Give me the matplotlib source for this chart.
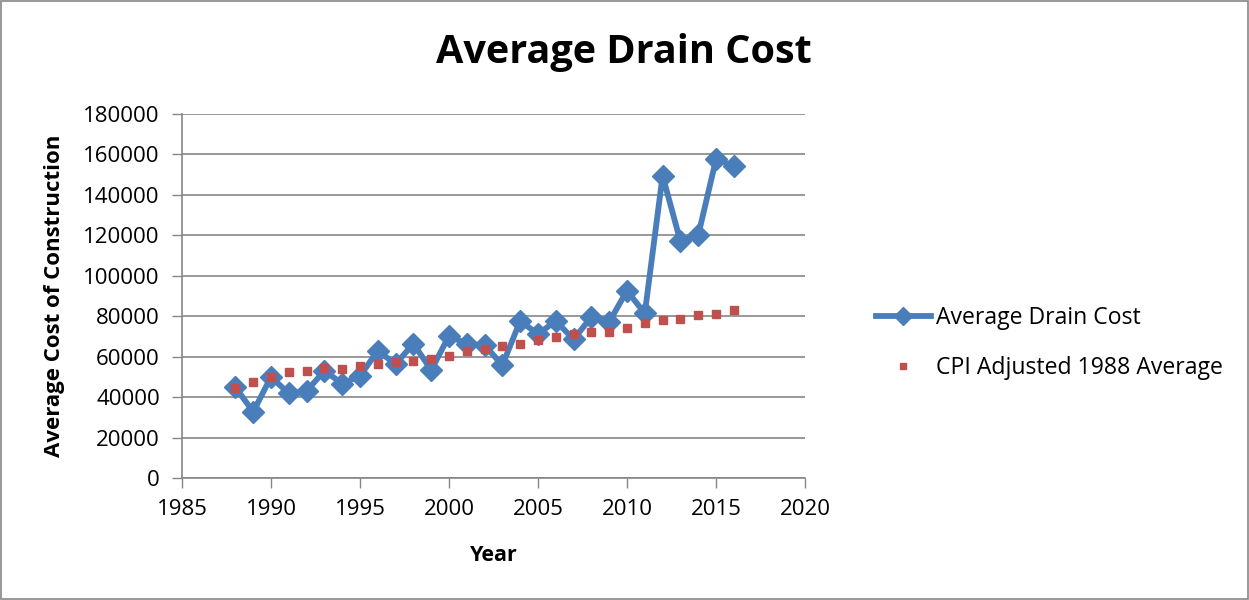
import matplotlib
matplotlib.use("Agg")
import matplotlib.pyplot as plt
from matplotlib.patches import Rectangle

years = list(range(1988, 2017))
drain_cost = [44900, 32700, 50000, 41800, 43000, 53000, 46700, 50500, 62900, 56300,
              66500, 53300, 70300, 66200, 65700, 55800, 77700, 71100, 77700, 68500,
              79700, 77200, 92600, 81400, 149500, 117000, 120000, 157500, 154500]
cpi_adjusted = [44700, 47500, 50000, 52500, 53000, 54200, 54000, 55500, 56300, 57400,
                57800, 58800, 60300, 62700, 63700, 65200, 66500, 68200, 69500, 71100,
                72000, 72400, 74000, 76800, 78100, 78400, 80400, 81200, 82900]
x_ticks = [1985, 1990, 1995, 2000, 2005, 2010, 2015, 2020]
y_ticks = [0, 20000, 40000, 60000, 80000, 100000, 120000, 140000, 160000, 180000]

plt.rcParams['font.family'] = ['Open Sans', 'DejaVu Sans']

fig = plt.figure(figsize=(12.49, 6.0), dpi=100)
ax = fig.add_axes([182/1249, 1-478/600, (805-182)/1249, (478-114)/600])

ax.plot(years, drain_cost, color='#4A7EBB', lw=4.2, marker='D', markersize=11.5,
        markerfacecolor='#4A7EBB', markeredgecolor='#4A7EBB', label='Average Drain Cost',
        zorder=3)
ax.plot(years, cpi_adjusted, ls='none', marker='s', markersize=5.5,
        color='#C0504D', label='CPI Adjusted 1988 Average', zorder=4)

ax.set_xlim(1985, 2020)
ax.set_ylim(0, 180000)
ax.set_xticks(x_ticks)
ax.set_yticks(y_ticks)
ax.tick_params(axis='both', labelsize=16, direction='out', length=7, color='#868686', width=1)
ax.tick_params(axis='y', pad=9)
ax.tick_params(axis='x', pad=8)
ax.grid(axis='y', color='#868686', lw=1.2)
ax.set_axisbelow(True)
for s in ['top', 'right']:
    ax.spines[s].set_visible(False)
for s in ['left', 'bottom']:
    ax.spines[s].set_color('#868686')
    ax.spines[s].set_linewidth(1.2)

ax.set_xlabel('Year', fontsize=15.5, fontweight='bold', labelpad=18)
ax.set_ylabel('Average Cost of Construction', fontsize=16, fontweight='bold', labelpad=13)
fig.text(624/1249, 1-52/600, 'Average Drain Cost', fontsize=28.5, fontweight='bold',
         ha='center', va='center')

leg = ax.legend(loc='center left', bbox_to_anchor=(855/1249, 1-343/600), bbox_transform=fig.transFigure,
                frameon=False, fontsize=16.6, handlelength=2.4, labelspacing=1.1, handletextpad=0.2,
                markerscale=0.8)

fig.patches.append(Rectangle((0.0008, 0.0015), 0.9985, 0.997, transform=fig.transFigure,
                             fill=False, edgecolor='#868686', lw=1.2))

fig.savefig('out.png', dpi=100)
